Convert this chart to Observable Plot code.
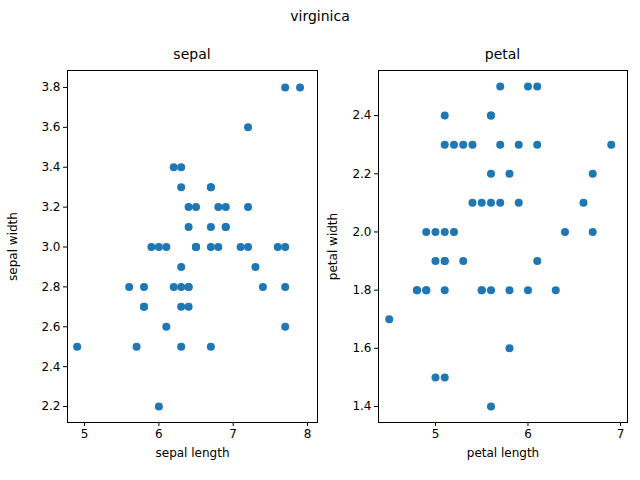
<!DOCTYPE html>
<html><head>
<script src="https://cdn.jsdelivr.net/npm/d3@7"></script>
<script src="https://cdn.jsdelivr.net/npm/@observablehq/plot@0.6"></script>
<style>
body{margin:0;background:#fff;font-family:"DejaVu Sans",sans-serif}
#wrap{position:relative;width:640px;height:480px}
.t{position:absolute;font-size:14px;text-align:center;color:#000;z-index:2}
.p{position:absolute;top:0;z-index:1}
</style>
</head><body>
<div id="wrap">
<div class="p" id="a" style="left:0"></div>
<div class="p" id="b" style="left:320px"></div>
<div class="t" style="left:0;width:640px;top:8px">virginica</div>
<div class="t" style="left:67px;width:250px;top:46px">sepal</div>
<div class="t" style="left:378px;width:249px;top:46px">petal</div>
</div>
<script>
const sepalLength = [6.3,5.8,7.1,6.3,6.5,7.6,4.9,7.3,6.7,7.2,6.5,6.4,6.8,5.7,5.8,6.4,6.5,7.7,7.7,6.0,6.9,5.6,7.7,6.3,6.7,7.2,6.2,6.1,6.4,7.2,7.4,7.9,6.4,6.3,6.1,7.7,6.3,6.4,6.0,6.9,6.7,6.9,5.8,6.8,6.7,6.7,6.3,6.5,6.2,5.9];
const sepalWidth = [3.3,2.7,3.0,2.9,3.0,3.0,2.5,2.9,2.5,3.6,3.2,2.7,3.0,2.5,2.8,3.2,3.0,3.8,2.6,2.2,3.2,2.8,2.8,2.7,3.3,3.2,2.8,3.0,2.8,3.0,2.8,3.8,2.8,2.8,2.6,3.0,3.4,3.1,3.0,3.1,3.1,3.1,2.7,3.2,3.3,3.0,2.5,3.0,3.4,3.0];
const petalLength = [6.0,5.1,5.9,5.6,5.8,6.6,4.5,6.3,5.8,6.1,5.1,5.3,5.5,5.0,5.1,5.3,5.5,6.7,6.9,5.0,5.7,4.9,6.7,4.9,5.7,6.0,4.8,4.9,5.6,5.8,6.1,6.4,5.6,5.1,5.6,6.1,5.6,5.5,4.8,5.4,5.6,5.1,5.1,5.9,5.7,5.2,5.0,5.2,5.4,5.1];
const petalWidth = [2.5,1.9,2.1,1.8,2.2,2.1,1.7,1.8,1.8,2.5,2.0,1.9,2.1,2.0,2.4,2.3,1.8,2.2,2.3,1.5,2.3,2.0,2.0,1.8,2.1,1.8,1.8,1.8,2.1,1.6,1.9,2.0,2.2,1.5,1.4,2.3,2.4,1.8,1.8,2.1,2.4,2.3,1.9,2.3,2.5,2.3,1.9,2.0,2.3,1.8];

function panel(xs, ys, xd, yd, xt, yt, xl, yl, ml, mr) {
  const data = xs.map((x, i) => ({x, y: ys[i]}));
  return Plot.plot({
    width: 320, height: 480,
    marginLeft: ml, marginRight: mr, marginTop: 70, marginBottom: 58,
    style: {fontFamily: "DejaVu Sans, sans-serif", fontSize: "12px", color: "#000", background: "#fff"},
    x: {domain: xd},
    y: {domain: yd},
    marks: [
      Plot.frame({stroke: "#000"}),
      Plot.axisX({ticks: xt, tickSize: 4, tickPadding: 3, label: xl, labelAnchor: "center", labelArrow: "none", labelOffset: 34, tickFormat: d => d3.format("~g")(d)}),
      Plot.axisY({ticks: yt, tickSize: 4, tickPadding: 3, label: yl, labelAnchor: "center", labelArrow: "none", labelOffset: ml - 8, tickFormat: d3.format(".1f")}),
      Plot.dot(data, {x: "x", y: "y", r: 4, fill: "#1f77b4", stroke: null})
    ]
  });
}

document.getElementById("a").append(panel(sepalLength, sepalWidth, [4.77, 8.135], [2.12, 3.885],
  [5,6,7,8], [2.2,2.4,2.6,2.8,3.0,3.2,3.4,3.6,3.8], "sepal length", "sepal width", 67, 3));
document.getElementById("b").append(panel(petalLength, petalWidth, [4.384, 7.076], [1.345, 2.555],
  [5,6,7], [1.4,1.6,1.8,2.0,2.2,2.4], "petal length", "petal width", 58, 13));
</script>
</body></html>
